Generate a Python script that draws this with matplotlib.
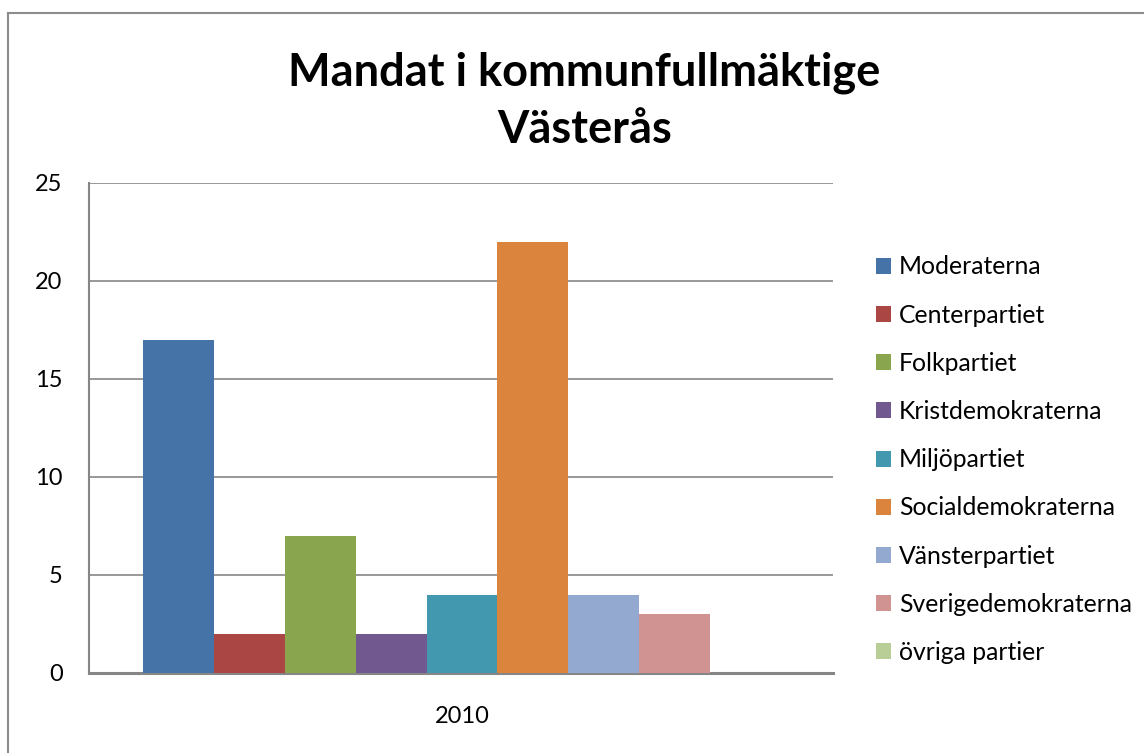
import numpy as np
import matplotlib
matplotlib.use("Agg")
import matplotlib.pyplot as plt
from matplotlib.lines import Line2D
from matplotlib.patches import Patch

plt.rcParams['font.family'] = ['Lato', 'DejaVu Sans']

parties = ['Moderaterna', 'Centerpartiet', 'Folkpartiet', 'Kristdemokraterna',
           'Miljöpartiet', 'Socialdemokraterna', 'Vänsterpartiet',
           'Sverigedemokraterna', 'övriga partier']
seats = [17, 2, 7, 2, 4, 22, 4, 3, 0]
colors = ['#4572A7', '#AA4643', '#89A54E', '#71588F', '#4198AF',
          '#DB843D', '#93A9CF', '#D19392', '#B9CD96']
year = '2010'

fig = plt.figure(figsize=(11.44, 7.53), dpi=100)
ax = fig.add_axes([0.0778, 0.1063, 0.6503, 0.6507])

x = np.arange(len(parties))
ax.bar(x, seats, width=1.0, color=colors, zorder=3)

ax.set_xlim(-0.5 - 0.76, len(parties) - 0.5 + 0.73)
ax.set_ylim(0, 25)
ax.set_yticks([0, 5, 10, 15, 20, 25])
ax.yaxis.grid(True, color='#868686', linewidth=1.2, zorder=0)
ax.set_xticks([(len(parties) - 1) / 2])
ax.set_xticklabels([year])
ax.tick_params(axis='both', length=0, labelsize=17)
ax.tick_params(axis='y', pad=19)
ax.tick_params(axis='x', pad=24)
for s in ['top', 'right']:
    ax.spines[s].set_visible(False)
for s in ['left', 'bottom']:
    ax.spines[s].set_color('#868686')
ax.spines['bottom'].set_linewidth(2.2)
ax.spines['left'].set_linewidth(1.5)

handles = [Patch(facecolor=c, edgecolor='none') for c in colors]
fig.legend(handles, parties, loc='upper left', bbox_to_anchor=(0.757, 0.674),
           frameon=False, fontsize=17.8, handlelength=0.62, handleheight=0.62,
           handletextpad=0.32, labelspacing=1.02, borderaxespad=0)

fig.text(0.511, 0.866, 'Mandat i kommunfullmäktige\nVästerås', ha='center',
         va='center', fontsize=32.5, fontweight='bold', linespacing=1.45)

# outer chart frame
fig.add_artist(Line2D([0.007, 0.007], [0.0, 0.983], color='#8c8c8c', linewidth=1.5,
                      transform=fig.transFigure))
fig.add_artist(Line2D([0.007, 1.0], [0.983, 0.983], color='#8c8c8c', linewidth=1.5,
                      transform=fig.transFigure))

fig.savefig('out.png', dpi=100)
